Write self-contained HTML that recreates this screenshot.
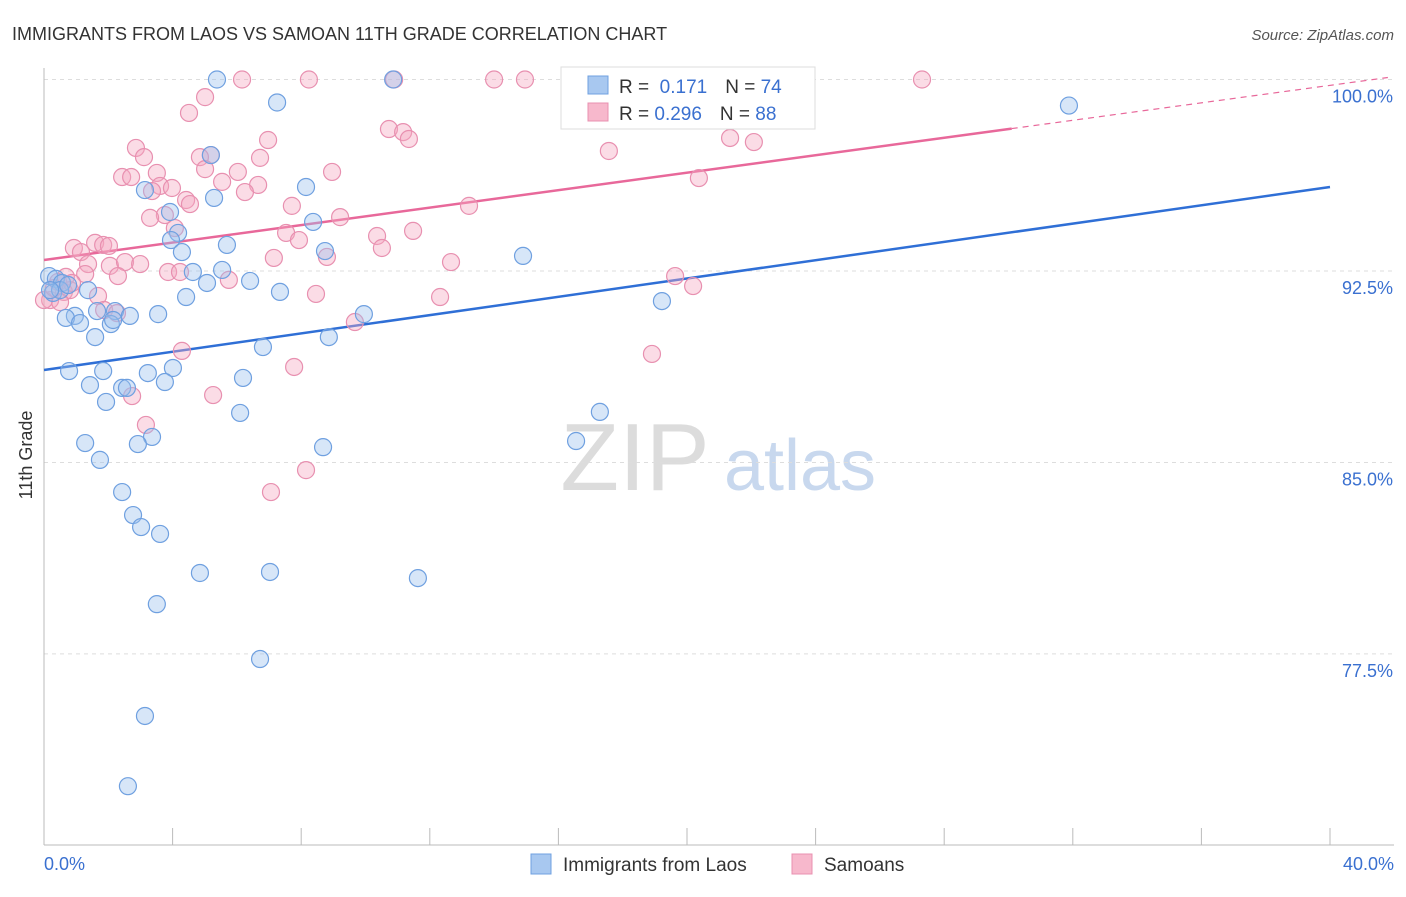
<!DOCTYPE html>
<html><head><meta charset="utf-8"><style>
body{margin:0;background:#fff;font-family:"Liberation Sans",sans-serif;}
svg text{font-family:"Liberation Sans",sans-serif;}
</style></head><body>
<svg id="chart" width="1406" height="892" viewBox="0 0 1406 892">
<text x="12" y="40" font-size="18" fill="#333">IMMIGRANTS FROM LAOS VS SAMOAN 11TH GRADE CORRELATION CHART</text>
<text x="1394" y="40" font-size="15" fill="#555" font-style="italic" text-anchor="end">Source: ZipAtlas.com</text>
<text x="32" y="455" font-size="18" fill="#333" text-anchor="middle" transform="rotate(-90 32 455)">11th Grade</text>
<g>
<text x="635" y="490" font-size="96" fill="#dcdcdc" font-family="Liberation Serif" text-anchor="middle">ZIP</text>
<text x="800" y="490" font-size="72" fill="#c8d8ee" text-anchor="middle">atlas</text>
</g>
<g id="grid"></g><g id="axes"></g><g id="lines"></g><g id="pts"></g>
<g>
<rect x="561" y="67" width="254" height="62" fill="#fff" stroke="#ddd"/>
<rect x="588" y="76" width="20" height="18" fill="#a8c8f0" stroke="#6fa0e0"/>
<rect x="588" y="103" width="20" height="18" fill="#f7b8cc" stroke="#e890b0"/>
<text x="619" y="93" font-size="19" fill="#333">R = <tspan fill="#3a70d0">&#160;0.171</tspan><tspan dx="18">N = </tspan><tspan fill="#3a70d0">74</tspan></text>
<text x="619" y="120" font-size="19" fill="#333">R = <tspan fill="#3a70d0">0.296</tspan><tspan dx="18">N = </tspan><tspan fill="#3a70d0">88</tspan></text>
</g>
<g>
<rect x="531" y="854" width="20" height="20" fill="#a8c8f0" stroke="#6fa0e0"/>
<text x="563" y="871" font-size="19" fill="#333">Immigrants from Laos</text>
<rect x="792" y="854" width="20" height="20" fill="#f7b8cc" stroke="#e890b0"/>
<text x="824" y="871" font-size="19" fill="#333">Samoans</text>
</g>
</svg>
<script>
const yTicks=[77.5,85,92.5,100];
const yTickLabels=["77.5%","85.0%","92.5%","100.0%"];
const xTickLabels=["0.0%","40.0%"];
const blueX=[5.38,10.86,7.25,31.88,5.19,3.14,8.15,5.29,3.92,8.37,4.17,3.95,4.29,8.74,14.9,5.69,0.16,0.37,5.54,4.63,6.41,5.07,0.56,7.34,4.42,0.28,1.37,1.65,2.21,2.67,3.55,9.95,0.96,0.68,1.12,2.08,1.59,8.86,19.22,6.81,0.78,1.84,3.23,4.01,1.43,3.76,6.19,2.43,2.58,1.93,6.1,17.29,3.36,1.28,2.92,8.68,16.55,1.74,2.43,2.77,3.02,3.61,4.85,7.03,11.63,3.51,6.72,3.14,2.61,0.5,0.19,2.15,0.75];
const blueY=[100,100,99.1,98.98,97.04,95.67,95.79,95.36,94.81,94.42,93.99,93.71,93.24,93.28,93.09,93.52,92.3,92.19,92.54,92.46,92.11,92.03,92.03,91.68,91.48,91.64,91.75,90.93,90.93,90.74,90.81,90.81,90.74,90.66,90.46,90.42,89.91,89.91,91.32,89.52,88.58,88.58,88.5,88.7,88.03,88.15,88.31,87.92,87.92,87.37,86.94,86.98,86.0,85.76,85.72,85.6,85.84,85.1,83.84,82.94,82.47,82.2,80.67,80.71,80.47,79.45,77.3,75.07,72.32,91.75,91.75,90.58,91.95];
const pinkX=[6.16,8.24,10.89,14.0,14.96,27.31,5.01,4.51,10.73,11.17,11.35,6.97,21.34,22.08,17.57,2.86,3.11,5.19,4.85,6.72,5.01,6.03,3.51,2.43,2.71,8.96,20.37,5.54,3.61,3.98,6.66,6.25,3.36,4.42,4.54,7.71,9.21,13.22,3.76,3.3,4.07,11.48,7.53,7.93,10.36,10.51,0.93,1.15,1.59,1.84,2.02,8.8,7.15,12.66,1.37,2.05,2.52,2.99,3.86,4.23,5.75,2.3,1.28,0.68,0.44,0.62,0.81,1.68,19.63,20.19,8.46,12.32,1.87,2.27,9.67,4.29,18.91,7.78,5.26,2.74,3.17,8.15,7.06,0.19,0.5,0,0.31,0.87];
const pinkY=[100,100,100,100,100,100,99.31,98.69,98.06,97.94,97.67,97.63,97.71,97.55,97.2,97.32,96.96,97.04,96.96,96.93,96.49,96.38,96.34,96.18,96.18,96.38,96.14,95.99,95.83,95.75,95.87,95.59,95.63,95.28,95.12,95.05,94.61,95.05,94.69,94.58,94.18,94.07,93.99,93.71,93.87,93.4,93.4,93.24,93.6,93.52,93.48,93.05,93.01,92.85,92.77,92.7,92.85,92.77,92.46,92.46,92.15,92.3,92.38,92.27,92.07,91.68,91.75,91.52,92.3,91.91,91.6,91.48,90.97,90.85,90.5,89.37,89.25,88.74,87.64,87.6,86.47,84.7,83.84,91.36,91.28,91.36,91.83,92.03];
const blueTrend=[88.62,95.79];
const pinkTrend=[92.93,99.77];
const NS="http://www.w3.org/2000/svg";
const X0=44,X1=1330,Y100=79.5,PXPER=25.53;
const sx=v=>X0+(v/40)*(X1-X0);
const sy=v=>Y100+(100-v)*PXPER;
function mk(tag,attrs,parent){const e=document.createElementNS(NS,tag);for(const k in attrs)e.setAttribute(k,attrs[k]);document.getElementById(parent).appendChild(e);return e;}
yTicks.forEach((t,i)=>{
 const l=mk('line',{x1:44,x2:1394,y1:sy(t),y2:sy(t),stroke:'#ddd','stroke-dasharray':'4,4'},'grid');
 
 
 const tx=mk('text',{x:1393,y:sy(t)+23,'font-size':18,fill:'#3a70d0','text-anchor':'end'},'grid');
 tx.textContent=yTickLabels[i];
 
 
});
let ax=mk('line',{x1:44,x2:44,y1:68,y2:845,stroke:'#bbb'},'axes');


ax=mk('line',{x1:44,x2:1394,y1:845,y2:845,stroke:'#bbb'},'axes');


for(let i=0;i<=10;i++){
 const t=mk('line',{x1:sx(i*4),x2:sx(i*4),y1:828,y2:845,stroke:'#bbb'},'axes');
 
 
}
let xl=mk('text',{x:44,y:870,'font-size':18,fill:'#3a70d0'},'axes');
xl.textContent=xTickLabels[0];


xl=mk('text',{x:1394,y:870,'font-size':18,fill:'#3a70d0','text-anchor':'end'},'axes');
xl.textContent=xTickLabels[1];


function pts(xs,ys,fill,stroke,name){
 xs.forEach((x,i)=>{
  const c=mk('circle',{cx:sx(x),cy:sy(ys[i]),r:8.5,fill:fill,'fill-opacity':0.4,stroke:stroke,'stroke-width':1.2},'pts');
  
  
 });
}
pts(pinkX,pinkY,'#f4a8c0','#e890b0','samoan-point');
pts(blueX,blueY,'#9cc0ee','#6fa0e0','laos-point');
const bl=mk('line',{x1:sx(0),y1:sy(blueTrend[0]),x2:sx(40),y2:sy(blueTrend[1]),stroke:'#2f6fd6','stroke-width':2.5},'lines');


const slope=(pinkTrend[1]-pinkTrend[0])/40;
const pv=x=>pinkTrend[0]+slope*x;
const pl=mk('line',{x1:sx(0),y1:sy(pv(0)),x2:sx(30.1),y2:sy(pv(30.1)),stroke:'#e8689a','stroke-width':2.5},'lines');


const pd=mk('line',{x1:sx(30.1),y1:sy(pv(30.1)),x2:sx(41.8),y2:sy(pv(41.8)),stroke:'#e8689a','stroke-width':1.2,'stroke-dasharray':'6,5'},'lines');


</script>
</body></html>
